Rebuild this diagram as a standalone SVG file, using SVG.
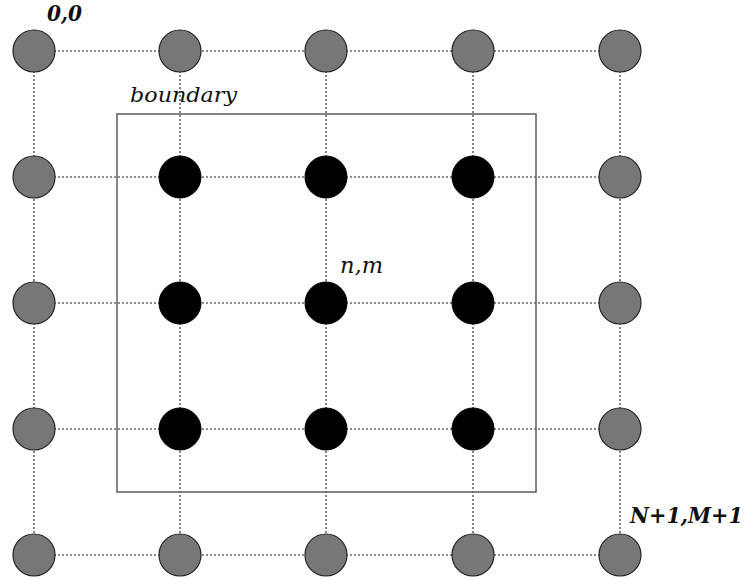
<svg xmlns="http://www.w3.org/2000/svg" width="750" height="580" viewBox="0 0 750 580">
  <style>
    .grid { stroke: #666; stroke-width: 1.6; stroke-dasharray: 2 2; fill: none; }
    .outer { fill: #777; stroke: #222; stroke-width: 1.2; }
    .inner { fill: #000; stroke: #000; stroke-width: 1; }
    .frame { fill: none; stroke: #666; stroke-width: 1.6; }
    .lbl { font-family: "DejaVu Serif", "Liberation Serif", serif; font-style: italic; font-size: 20px; fill: #111; }
    .mid { font-size: 22px; }
    .bold { font-weight: bold; font-size: 22px; }
  </style>
  <rect width="750" height="580" fill="#fff"/>

  <!-- dotted lattice lines -->
  <g id="connectors">
    <line class="grid" x1="34" y1="51" x2="620" y2="51"/>
    <line class="grid" x1="34" y1="177" x2="620" y2="177"/>
    <line class="grid" x1="34" y1="303" x2="620" y2="303"/>
    <line class="grid" x1="34" y1="429" x2="620" y2="429"/>
    <line class="grid" x1="34" y1="555" x2="620" y2="555"/>
    <line class="grid" x1="34" y1="51" x2="34" y2="555"/>
    <line class="grid" x1="180" y1="51" x2="180" y2="555"/>
    <line class="grid" x1="326" y1="51" x2="326" y2="555"/>
    <line class="grid" x1="473" y1="51" x2="473" y2="555"/>
    <line class="grid" x1="620" y1="51" x2="620" y2="555"/>
  </g>

  <!-- boundary frame -->
  <g id="boundary">
    <rect class="frame" x="117" y="114" width="419" height="378"/>
    <text class="lbl" x="130" y="102" textLength="107" lengthAdjust="spacingAndGlyphs">boundary</text>
  </g>

  <!-- outer (boundary) points -->
  <g id="n00"><circle class="outer" cx="34" cy="51" r="21"/></g>
  <g id="n01"><circle class="outer" cx="180" cy="51" r="21"/></g>
  <g id="n02"><circle class="outer" cx="326" cy="51" r="21"/></g>
  <g id="n03"><circle class="outer" cx="473" cy="51" r="21"/></g>
  <g id="n04"><circle class="outer" cx="620" cy="51" r="21"/></g>
  <g id="n10"><circle class="outer" cx="34" cy="177" r="21"/></g>
  <g id="n14"><circle class="outer" cx="620" cy="177" r="21"/></g>
  <g id="n20"><circle class="outer" cx="34" cy="303" r="21"/></g>
  <g id="n24"><circle class="outer" cx="620" cy="303" r="21"/></g>
  <g id="n30"><circle class="outer" cx="34" cy="429" r="21"/></g>
  <g id="n34"><circle class="outer" cx="620" cy="429" r="21"/></g>
  <g id="n40"><circle class="outer" cx="34" cy="555" r="21"/></g>
  <g id="n41"><circle class="outer" cx="180" cy="555" r="21"/></g>
  <g id="n42"><circle class="outer" cx="326" cy="555" r="21"/></g>
  <g id="n43"><circle class="outer" cx="473" cy="555" r="21"/></g>
  <g id="n44"><circle class="outer" cx="620" cy="555" r="21"/></g>

  <!-- interior points -->
  <g id="n11"><circle class="inner" cx="180" cy="177" r="21"/></g>
  <g id="n12"><circle class="inner" cx="326" cy="177" r="21"/></g>
  <g id="n13"><circle class="inner" cx="473" cy="177" r="21"/></g>
  <g id="n21"><circle class="inner" cx="180" cy="303" r="21"/></g>
  <g id="n22"><circle class="inner" cx="326" cy="303" r="21"/></g>
  <g id="n23"><circle class="inner" cx="473" cy="303" r="21"/></g>
  <g id="n31"><circle class="inner" cx="180" cy="429" r="21"/></g>
  <g id="n32"><circle class="inner" cx="326" cy="429" r="21"/></g>
  <g id="n33"><circle class="inner" cx="473" cy="429" r="21"/></g>

  <!-- index labels -->
  <g id="labels">
    <text class="lbl bold" x="47" y="21" textLength="35" lengthAdjust="spacingAndGlyphs">0,0</text>
    <text class="lbl mid" x="340" y="273" textLength="43" lengthAdjust="spacingAndGlyphs">n,m</text>
    <text class="lbl bold" x="630" y="523" textLength="113" lengthAdjust="spacingAndGlyphs">N+1,M+1</text>
  </g>
</svg>
